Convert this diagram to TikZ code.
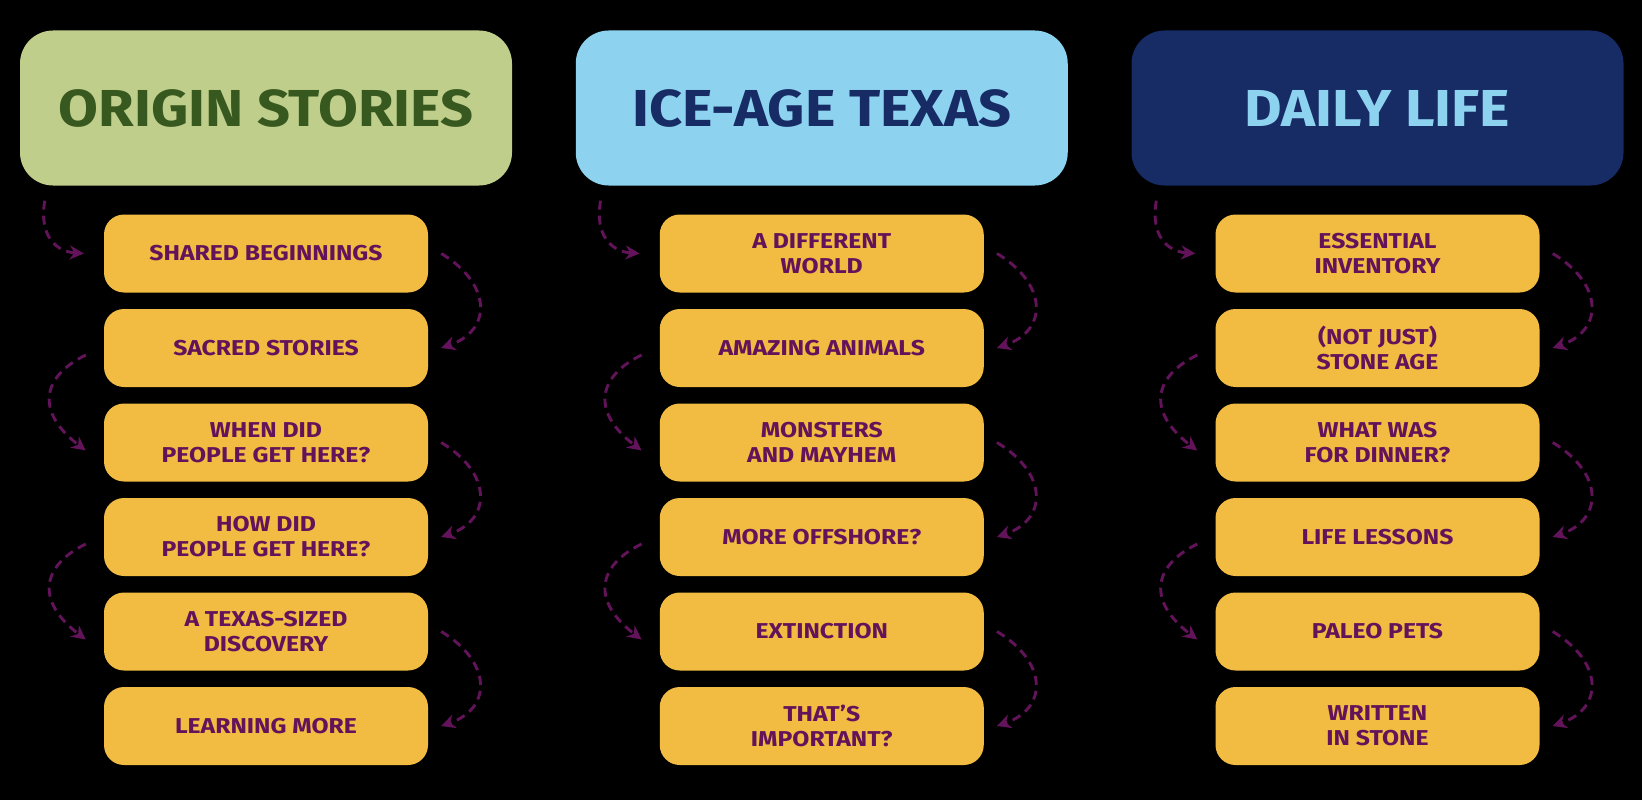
\documentclass[tikz,border=0pt]{standalone}
\usepackage{fontspec}
\setmainfont{Fira Sans}
\newfontfamily\headfont{Fira Sans}[FakeStretch=1.11]
\newfontfamily\boxfont{Fira Sans}[FakeStretch=1.15]
\usetikzlibrary{arrows.meta}
\definecolor{sage}{HTML}{BFCE8A}
\definecolor{forest}{HTML}{37581F}
\definecolor{sky}{HTML}{8DD3F0}
\definecolor{navy}{HTML}{172B65}
\definecolor{gold}{HTML}{F2BB42}
\definecolor{plum}{HTML}{63135A}

\begin{document}
\begin{tikzpicture}[x=1pt,y=-1pt,
  head/.style={rounded corners=33pt,minimum width=492pt,minimum height=155pt,
    inner sep=0pt,font=\headfont\fontsize{52}{60}\selectfont\bfseries},
  box/.style={fill=gold,rounded corners=20pt,minimum width=324pt,minimum height=78pt,
    inner sep=0pt,align=center,text=plum,font=\boxfont\fontsize{21.5}{25}\selectfont\bfseries},
  flow/.style={draw=plum,line width=2.9pt,dash pattern=on 9pt off 6pt,
    -{Stealth[length=14pt,width=14pt,inset=4.5pt]}}]
  \fill[black] (0,0) rectangle (1642,800);
  % ---------- origin stories ----------
  \node[head,fill=sage,text=forest] (origin) at (266,108) {ORIGIN STORIES};
  \node[box] (o1) at (266,253.5) {SHARED BEGINNINGS};
  \node[box] (o2) at (266,348) {SACRED STORIES};
  \node[box] (o3) at (266,442.5) {WHEN DID\\PEOPLE GET HERE?};
  \node[box] (o4) at (266,537) {HOW DID\\PEOPLE GET HERE?};
  \node[box] (o5) at (266,631.5) {A TEXAS-SIZED\\DISCOVERY};
  \node[box] (o6) at (266,726) {LEARNING MORE};
  \draw[flow] ([xshift=25pt,yshift=-15pt]origin.south west) .. controls +(-6,35) and +(-28,-2) .. ([xshift=-20pt]o1.west);
  \draw[flow] ([xshift=13pt]o1.east) .. controls +(50,30) and +(52,-18) .. ([xshift=13pt]o2.east);
  \draw[flow] ([xshift=-18pt,yshift=-7pt]o2.west) .. controls +(-45,22) and +(-50,-38) .. ([xshift=-18pt,yshift=-8pt]o3.west);
  \draw[flow] ([xshift=13pt]o3.east) .. controls +(50,30) and +(52,-18) .. ([xshift=13pt]o4.east);
  \draw[flow] ([xshift=-18pt,yshift=-7pt]o4.west) .. controls +(-45,22) and +(-50,-38) .. ([xshift=-18pt,yshift=-8pt]o5.west);
  \draw[flow] ([xshift=13pt]o5.east) .. controls +(50,30) and +(52,-18) .. ([xshift=13pt]o6.east);
  % ---------- ice-age texas ----------
  \node[head,fill=sky,text=navy] (iceage) at (821.75,108) {ICE-AGE TEXAS};
  \node[box] (i1) at (821.75,253.5) {A DIFFERENT\\WORLD};
  \node[box] (i2) at (821.75,348) {AMAZING ANIMALS};
  \node[box] (i3) at (821.75,442.5) {MONSTERS\\AND MAYHEM};
  \node[box] (i4) at (821.75,537) {MORE OFFSHORE?};
  \node[box] (i5) at (821.75,631.5) {EXTINCTION};
  \node[box] (i6) at (821.75,726) {THAT’S\\IMPORTANT?};
  \draw[flow] ([xshift=25pt,yshift=-15pt]iceage.south west) .. controls +(-6,35) and +(-28,-2) .. ([xshift=-20pt]i1.west);
  \draw[flow] ([xshift=13pt]i1.east) .. controls +(50,30) and +(52,-18) .. ([xshift=13pt]i2.east);
  \draw[flow] ([xshift=-18pt,yshift=-7pt]i2.west) .. controls +(-45,22) and +(-50,-38) .. ([xshift=-18pt,yshift=-8pt]i3.west);
  \draw[flow] ([xshift=13pt]i3.east) .. controls +(50,30) and +(52,-18) .. ([xshift=13pt]i4.east);
  \draw[flow] ([xshift=-18pt,yshift=-7pt]i4.west) .. controls +(-45,22) and +(-50,-38) .. ([xshift=-18pt,yshift=-8pt]i5.west);
  \draw[flow] ([xshift=13pt]i5.east) .. controls +(50,30) and +(52,-18) .. ([xshift=13pt]i6.east);
  % ---------- daily life ----------
  \node[head,fill=navy,text=sky] (daily) at (1377.5,108) {DAILY LIFE};
  \node[box] (d1) at (1377.5,253.5) {ESSENTIAL\\INVENTORY};
  \node[box] (d2) at (1377.5,348) {(NOT JUST)\\STONE AGE};
  \node[box] (d3) at (1377.5,442.5) {WHAT WAS\\FOR DINNER?};
  \node[box] (d4) at (1377.5,537) {LIFE LESSONS};
  \node[box] (d5) at (1377.5,631.5) {PALEO PETS};
  \node[box] (d6) at (1377.5,726) {WRITTEN\\IN STONE};
  \draw[flow] ([xshift=25pt,yshift=-15pt]daily.south west) .. controls +(-6,35) and +(-28,-2) .. ([xshift=-20pt]d1.west);
  \draw[flow] ([xshift=13pt]d1.east) .. controls +(50,30) and +(52,-18) .. ([xshift=13pt]d2.east);
  \draw[flow] ([xshift=-18pt,yshift=-7pt]d2.west) .. controls +(-45,22) and +(-50,-38) .. ([xshift=-18pt,yshift=-8pt]d3.west);
  \draw[flow] ([xshift=13pt]d3.east) .. controls +(50,30) and +(52,-18) .. ([xshift=13pt]d4.east);
  \draw[flow] ([xshift=-18pt,yshift=-7pt]d4.west) .. controls +(-45,22) and +(-50,-38) .. ([xshift=-18pt,yshift=-8pt]d5.west);
  \draw[flow] ([xshift=13pt]d5.east) .. controls +(50,30) and +(52,-18) .. ([xshift=13pt]d6.east);
\end{tikzpicture}
\end{document}
